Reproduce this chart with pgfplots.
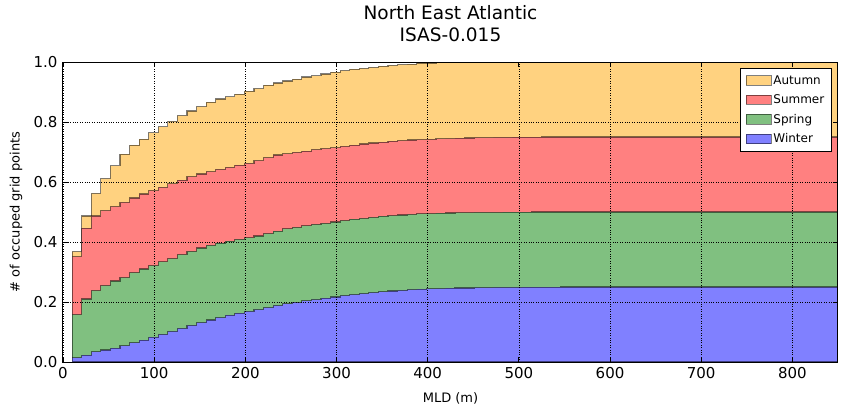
\documentclass[border=0pt]{standalone}
\usepackage{fontspec}
\setmainfont{DejaVu Sans}
\usepackage{pgfplots}
\usepackage{pgfplotstable}
\pgfplotsset{compat=1.18}

\definecolor{autumnc}{HTML}{FFD280}
\definecolor{summerc}{HTML}{FF8080}
\definecolor{springc}{HTML}{80C080}
\definecolor{winterc}{HTML}{8080FF}

% stacked cumulative tops per bin (left edge x)
\pgfplotstableread{
x      w      sp     su     au
10     0.014  0.158  0.351  0.368
20.5   0.023  0.210  0.446  0.487
31     0.034  0.238  0.487  0.562
41.5   0.040  0.255  0.505  0.611
52     0.046  0.270  0.518  0.654
62.5   0.054  0.281  0.532  0.693
73     0.064  0.298  0.547  0.723
83.5   0.073  0.310  0.560  0.743
94     0.083  0.321  0.571  0.764
104.5  0.092  0.334  0.582  0.784
115    0.102  0.345  0.594  0.802
125.5  0.112  0.358  0.606  0.821
136    0.122  0.369  0.618  0.837
146.5  0.131  0.380  0.627  0.851
157    0.140  0.389  0.635  0.866
167.5  0.148  0.396  0.642  0.877
178    0.156  0.403  0.649  0.884
188.5  0.163  0.409  0.656  0.893
199    0.169  0.414  0.662  0.903
209.5  0.175  0.420  0.671  0.911
220    0.181  0.428  0.681  0.923
230.5  0.188  0.436  0.690  0.930
241    0.194  0.444  0.694  0.937
251.5  0.199  0.449  0.699  0.943
262    0.204  0.454  0.703  0.950
272.5  0.208  0.459  0.708  0.954
283    0.213  0.462  0.711  0.960
293.5  0.217  0.467  0.714  0.966
304    0.221  0.471  0.719  0.971
314.5  0.225  0.476  0.723  0.976
325    0.228  0.479  0.727  0.979
335.5  0.231  0.482  0.730  0.982
346    0.234  0.486  0.733  0.986
356.5  0.237  0.488  0.736  0.989
367    0.239  0.490  0.738  0.991
377.5  0.241  0.492  0.740  0.993
388    0.243  0.494  0.741  0.996
398.5  0.244  0.495  0.742  0.997
409    0.245  0.496  0.744  0.998
419.5  0.246  0.497  0.745  0.998
430    0.247  0.498  0.746  0.999
440.5  0.247  0.498  0.747  0.999
451    0.248  0.499  0.748  1.000
461.5  0.248  0.499  0.748  1.000
472    0.249  0.499  0.749  1.000
482.5  0.249  0.4995 0.749  1.000
493    0.249  0.4995 0.7495 1.000
503.5  0.2495 0.4995 0.7495 1.000
514    0.2495 0.500  0.7495 1.000
524.5  0.2495 0.500  0.7497 1.000
535    0.2495 0.500  0.7497 1.000
545.5  0.2497 0.500  0.7498 1.000
556    0.2497 0.500  0.7498 1.000
566.5  0.2497 0.500  0.7498 1.000
577    0.2497 0.500  0.7498 1.000
587.5  0.2497 0.500  0.7498 1.000
598    0.250  0.500  0.750  1.000
608.5  0.250  0.500  0.750  1.000
619    0.250  0.500  0.750  1.000
629.5  0.250  0.500  0.750  1.000
640    0.250  0.500  0.750  1.000
650.5  0.250  0.500  0.750  1.000
661    0.250  0.500  0.750  1.000
671.5  0.250  0.500  0.750  1.000
682    0.250  0.500  0.750  1.000
692.5  0.250  0.500  0.750  1.000
703    0.250  0.500  0.750  1.000
713.5  0.250  0.500  0.750  1.000
724    0.250  0.500  0.750  1.000
734.5  0.250  0.500  0.750  1.000
745    0.250  0.500  0.750  1.000
755.5  0.250  0.500  0.750  1.000
766    0.250  0.500  0.750  1.000
776.5  0.250  0.500  0.750  1.000
787    0.250  0.500  0.750  1.000
797.5  0.250  0.500  0.750  1.000
808    0.250  0.500  0.750  1.000
818.5  0.250  0.500  0.750  1.000
829    0.250  0.500  0.750  1.000
839.5  0.250  0.500  0.750  1.000
850    0.250  0.500  0.750  1.000
}\histdata

\begin{document}
\begin{tikzpicture}
\begin{axis}[
    at={(0,0)}, anchor=south west,
    scale only axis,
    width=775pt, height=300pt,
    xmin=0, xmax=850, ymin=0, ymax=1,
    xtick={0,100,200,300,400,500,600,700,800},
    ytick={0,0.2,0.4,0.6,0.8,1},
    /pgf/number format/assume math mode=true,
    y tick label style={/pgf/number format/fixed,
        /pgf/number format/fixed zerofill,
        /pgf/number format/precision=1},
    tick label style={font=\fontsize{15}{18}\selectfont},
    xticklabel style={yshift=-2pt},
    yticklabel style={xshift=-2pt},
    tick align=inside, tick pos=both,
    major tick length=5pt,
    every tick/.style={black, line width=0.8pt},
    axis line style={black, line width=1pt},
    grid=major,
    major grid style={black, dotted, line width=0.6pt},
    axis on top,
    title={North East Atlantic\\ISAS-0.015},
    title style={at={(axis description cs:0.5,1)}, anchor=south, align=center,
        inner sep=0pt, yshift=14pt, font=\fontsize{18.5}{22}\selectfont},
    xlabel={MLD (m)},
    ylabel={\# of occuped grid points},
    every axis x label/.style={at={([yshift=-36pt]axis description cs:0.5,0)},
        anchor=center, font=\fontsize{13}{15}\selectfont},
    every axis y label/.style={at={([xshift=-47pt]axis description cs:0,0.5)},
        rotate=90, anchor=center, font=\fontsize{13}{15}\selectfont},
    legend style={at={(0.992,0.98)}, anchor=north east, draw=black,
        line width=1pt, font=\fontsize{12}{14}\selectfont,
        row sep=5pt, inner xsep=5pt, inner ysep=5pt},
    legend cell align=left,
    legend image code/.code={\draw[#1, line width=0.8pt] (0pt,-4.5pt) rectangle (25pt,5pt);},
]
\addplot[const plot, fill=autumnc, draw=black, draw opacity=0.5, line width=1.2pt]
    table[x=x, y=au]{\histdata} \closedcycle;
\addlegendentry{Autumn}
\addplot[const plot, fill=summerc, draw=black, draw opacity=0.5, line width=1.2pt]
    table[x=x, y=su]{\histdata} \closedcycle;
\addlegendentry{Summer}
\addplot[const plot, fill=springc, draw=black, draw opacity=0.5, line width=1.2pt]
    table[x=x, y=sp]{\histdata} \closedcycle;
\addlegendentry{Spring}
\addplot[const plot, fill=winterc, draw=black, draw opacity=0.5, line width=1.2pt]
    table[x=x, y=w]{\histdata} \closedcycle;
\addlegendentry{Winter}
\end{axis}
\pgfresetboundingbox
\path[use as bounding box] (-63pt,-54pt) rectangle (784pt,362pt);
\end{tikzpicture}
\end{document}
